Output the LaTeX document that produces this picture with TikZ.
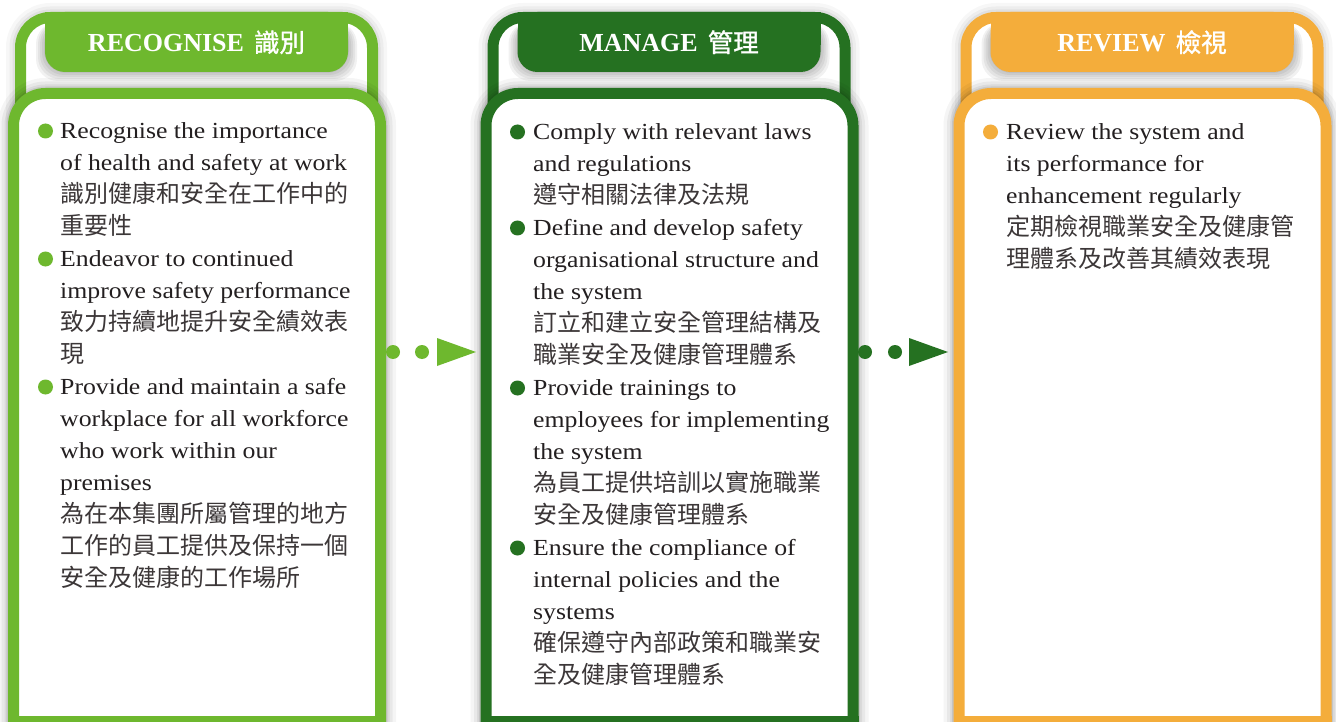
\documentclass[tikz,border=0pt]{standalone}
\usepackage{fontspec}
\setmainfont{Liberation Serif}[FakeStretch=1.12]
\newfontfamily\ttlfont{Liberation Serif}
\newfontfamily\cjk{Noto Sans CJK TC}
\newfontfamily\cjkb{Noto Sans CJK TC}[FakeBold=1.2]
\definecolor{lg}{HTML}{6EB82E}
\definecolor{dg}{HTML}{257121}
\definecolor{org}{HTML}{F4AD3B}
\definecolor{ink}{HTML}{231F20}
\definecolor{cjkink}{HTML}{3C3738}
\newcommand{\zh}[1]{{\cjk\fontsize{24}{32}\selectfont\color{cjkink}#1}}
\tikzset{
  frameglow/.style={preaction={draw=black,opacity=.03,line width=29pt},
                    preaction={draw=black,opacity=.04,line width=22pt},
                    preaction={draw=black,opacity=.05,line width=16pt}},
  panelglow/.style={preaction={draw=black,opacity=.04,line width=31pt},
                    preaction={draw=black,opacity=.05,line width=24pt},
                    preaction={draw=black,opacity=.06,line width=18pt},
                    preaction={draw=black,opacity=.07,line width=14pt}},
  txt/.style={anchor=north west,inner sep=0pt,align=left,text=ink,
              font=\fontsize{23}{32}\selectfont},
  ttl/.style={anchor=base,inner sep=0pt,text=white},
  bul/.style={circle,inner sep=0pt,minimum size=15pt},
  dot/.style={circle,inner sep=0pt,minimum size=14pt},
}
\begin{document}
\begin{tikzpicture}[x=1pt,y=-1pt]
\useasboundingbox (0,0) rectangle (1336,722);
\fill[white] (0,0) rectangle (1336,722);
\foreach \dx/\c/\ti/\zt/\n in {0/lg/RECOGNISE/識別/1, 472.5/dg/MANAGE/管理/2, 945.5/org/REVIEW/檢視/3}{
  \begin{scope}[shift={(\dx,0)}]
    % outer frame
    \draw[frameglow, draw=\c, fill=white, line width=11pt, rounded corners=30pt]
      (20.5,17.5) rectangle (372.5,780);
    % tab shadow
    \foreach \k in {1,3,5,7,9}
      \fill[black,opacity=.055,rounded corners=22pt] (45-\k,22) rectangle (348+\k,72+\k);
    % tab
    \fill[\c] (45,12) rectangle (348,45);
    \fill[\c, rounded corners=20pt] (45,12) rectangle (348,72);
    \node[ttl] (title\n) at (196.5,52)
      {{\ttlfont\bfseries\fontsize{26}{30}\selectfont \ti}\hspace{10pt}{\cjkb\fontsize{25.5}{30}\selectfont \zt}};
    % inner panel
    \draw[panelglow, draw=\c, fill=white, line width=11pt, rounded corners=32pt]
      (13.5,93.5) rectangle (380.5,800);
    \fill[\c] (8,716) rectangle (386,740);
  \end{scope}
}
% column 1 text
\node[txt] (t1) at (60,118) {\rule{0pt}{20pt}Recognise the importance\\
of health and safety at work\\
\zh{識別健康和安全在工作中的}\\
\zh{重要性}\\
Endeavor to continued\\
improve safety performance\\
\zh{致力持續地提升安全績效表}\\
\zh{現}\\
Provide and maintain a safe\\
workplace for all workforce\\
who work within our\\
premises\\
\zh{為在本集團所屬管理的地方}\\
\zh{工作的員工提供及保持一個}\\
\zh{安全及健康的工作場所}};
\node[bul,fill=lg] (b11) at (45.5,131) {};
\node[bul,fill=lg] (b12) at (45.5,259) {};
\node[bul,fill=lg] (b13) at (45.5,387) {};
% column 2 text
\node[txt] (t2) at (533,119) {\rule{0pt}{20pt}Comply with relevant laws\\
and regulations\\
\zh{遵守相關法律及法規}\\
Define and develop safety\\
organisational structure and\\
the system\\
\zh{訂立和建立安全管理結構及}\\
\zh{職業安全及健康管理體系}\\
Provide trainings to\\
employees for implementing\\
the system\\
\zh{為員工提供培訓以實施職業}\\
\zh{安全及健康管理體系}\\
Ensure the compliance of\\
internal policies and the\\
systems\\
\zh{確保遵守內部政策和職業安}\\
\zh{全及健康管理體系}};
\node[bul,fill=dg] (b21) at (517.5,132) {};
\node[bul,fill=dg] (b22) at (517.5,228) {};
\node[bul,fill=dg] (b23) at (517.5,388) {};
\node[bul,fill=dg] (b24) at (517.5,548) {};
% column 3 text
\node[txt] (t3) at (1006,119) {\rule{0pt}{20pt}Review the system and\\
its performance for\\
enhancement regularly\\
\zh{定期檢視職業安全及健康管}\\
\zh{理體系及改善其績效表現}};
\node[bul,fill=org] (b31) at (990.5,132) {};
% arrows between columns
\node[dot,fill=lg] (d11) at (393,352) {};
\node[dot,fill=lg] (d12) at (422,352) {};
\coordinate (a1t) at (437,338);
\coordinate (a1b) at (437,366);
\coordinate (a1p) at (476,352);
\fill[lg] (a1t) -- (a1p) -- (a1b) -- cycle;
\node[dot,fill=dg] (d21) at (865,352) {};
\node[dot,fill=dg] (d22) at (895,352) {};
\coordinate (a2t) at (909,338);
\coordinate (a2b) at (909,366);
\coordinate (a2p) at (948,352);
\fill[dg] (a2t) -- (a2p) -- (a2b) -- cycle;
\end{tikzpicture}
\end{document}
